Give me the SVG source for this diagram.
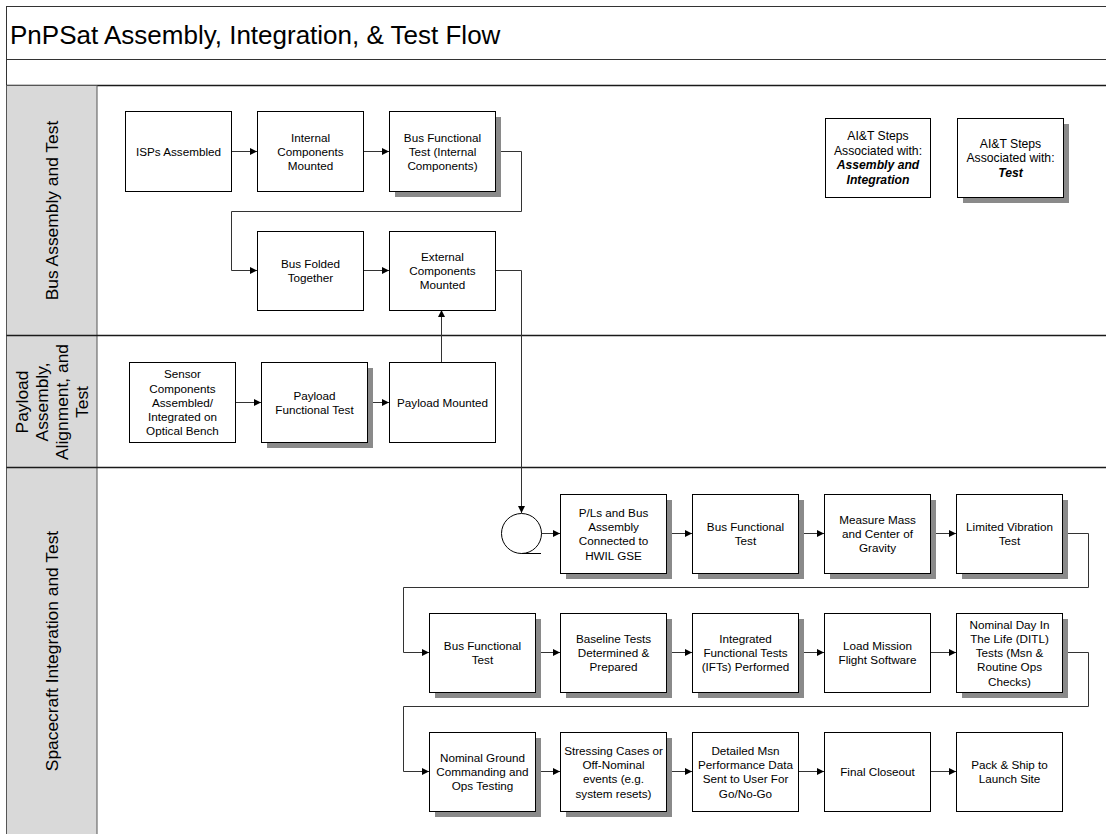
<svg xmlns="http://www.w3.org/2000/svg" width="1106" height="834" viewBox="0 0 1106 834">
<style>
.frame{fill:none;stroke:#333;stroke-width:1}
.div{stroke:#1a1a1a;stroke-width:1.4}
.hdr{fill:#d9d9d9;stroke:#555;stroke-width:1}
.box{fill:#fff;stroke:#000;stroke-width:1}
.sh{fill:#8a8a8a}
.t{font-family:"Liberation Sans",Arial,sans-serif;font-size:11.7px;text-anchor:middle;fill:#000}
.lg{font-family:"Liberation Sans",Arial,sans-serif;font-size:12.2px;text-anchor:middle;fill:#000}
.bi{font-weight:bold;font-style:italic}
.ln{font-family:"Liberation Sans",Arial,sans-serif;font-size:17.4px;text-anchor:middle;fill:#000}
.title{font-family:"Liberation Sans",Arial,sans-serif;font-size:26px;fill:#000}
.c{fill:none;stroke:#333;stroke-width:1}
</style>
<defs>
<marker id="ah" viewBox="0 0 10 10" refX="10" refY="5" markerWidth="8" markerHeight="7" markerUnits="userSpaceOnUse" orient="auto">
<path d="M0,0 L10,5 L0,10 z" fill="#000"/>
</marker>
</defs>
<rect x="0" y="0" width="1106" height="834" fill="#fff"/>
<g id="frame">
<rect class="frame" x="6.5" y="6.5" width="1110" height="840"/>
<line class="frame" x1="6.5" y1="59.5" x2="1106" y2="59.5"/>
<line class="div" x1="6.5" y1="85.5" x2="1106" y2="85.5"/>
<text class="title" x="10" y="44">PnPSat Assembly, Integration, &amp; Test Flow</text>
</g>
<g id="lane-bus">
<rect class="hdr" x="6.5" y="85.5" width="90.5" height="250"/>
<text class="ln" transform="translate(52,210.5) rotate(-90)" x="0" y="6">Bus Assembly and Test</text>
</g>
<g id="lane-payload">
<rect class="hdr" x="6.5" y="335.5" width="90.5" height="132"/>
<text class="ln" transform="translate(52,402) rotate(-90)"><tspan x="0" y="-24">Payload</tspan><tspan x="0" y="-4">Assembly,</tspan><tspan x="0" y="16">Alignment, and</tspan><tspan x="0" y="36">Test</tspan></text>
</g>
<g id="lane-spacecraft">
<rect class="hdr" x="6.5" y="467.5" width="90.5" height="380"/>
<text class="ln" transform="translate(52,651) rotate(-90)" x="0" y="6">Spacecraft Integration and Test</text>
</g>
<g id="dividers">
<line class="div" x1="6.5" y1="335.5" x2="1106" y2="335.5"/>
<line class="div" x1="6.5" y1="467.5" x2="1106" y2="467.5"/>
</g>

<g id="connectors">
<line class="c" x1="231" y1="151.5" x2="257" y2="151.5" marker-end="url(#ah)"/>
<line class="c" x1="363" y1="151.5" x2="389" y2="151.5" marker-end="url(#ah)"/>
<polyline class="c" points="495,151.5 521.5,151.5 521.5,211.5 231.5,211.5 231.5,270.5 257,270.5" marker-end="url(#ah)"/>
<line class="c" x1="363" y1="270.5" x2="389" y2="270.5" marker-end="url(#ah)"/>
<polyline class="c" points="495,270.5 521.5,270.5 521.5,513" marker-end="url(#ah)"/>
<line class="c" x1="441.5" y1="362" x2="441.5" y2="310" marker-end="url(#ah)"/>
<line class="c" x1="235" y1="402.5" x2="261" y2="402.5" marker-end="url(#ah)"/>
<line class="c" x1="367" y1="402.5" x2="389" y2="402.5" marker-end="url(#ah)"/>
<line class="c" x1="541" y1="533.5" x2="560" y2="533.5" marker-end="url(#ah)"/>
<line class="c" x1="666" y1="533.5" x2="692" y2="533.5" marker-end="url(#ah)"/>
<line class="c" x1="798" y1="533.5" x2="824" y2="533.5" marker-end="url(#ah)"/>
<line class="c" x1="930" y1="533.5" x2="956" y2="533.5" marker-end="url(#ah)"/>
<polyline class="c" points="1062,533.5 1088.5,533.5 1088.5,587.5 403.5,587.5 403.5,652.5 429,652.5" marker-end="url(#ah)"/>
<line class="c" x1="535" y1="652.5" x2="560" y2="652.5" marker-end="url(#ah)"/>
<line class="c" x1="666" y1="652.5" x2="692" y2="652.5" marker-end="url(#ah)"/>
<line class="c" x1="798" y1="652.5" x2="824" y2="652.5" marker-end="url(#ah)"/>
<line class="c" x1="930" y1="652.5" x2="956" y2="652.5" marker-end="url(#ah)"/>
<polyline class="c" points="1062,652.5 1088.5,652.5 1088.5,706.5 403.5,706.5 403.5,771.5 429,771.5" marker-end="url(#ah)"/>
<line class="c" x1="535" y1="771.5" x2="560" y2="771.5" marker-end="url(#ah)"/>
<line class="c" x1="666" y1="771.5" x2="692" y2="771.5" marker-end="url(#ah)"/>
<line class="c" x1="798" y1="771.5" x2="824" y2="771.5" marker-end="url(#ah)"/>
<line class="c" x1="930" y1="771.5" x2="956" y2="771.5" marker-end="url(#ah)"/>
</g>

<g id="n-isps"><rect class="box" x="125.5" y="111.5" width="106" height="80"/><text class="t" x="178.5" y="155.7">ISPs Assembled</text></g>
<g id="n-internal"><rect class="box" x="257.5" y="111.5" width="106" height="80"/><text class="t"><tspan x="310.5" y="141.5">Internal</tspan><tspan x="310.5" y="155.7">Components</tspan><tspan x="310.5" y="169.9">Mounted</tspan></text></g>
<g id="n-bft-int"><rect class="sh" x="395" y="117" width="106" height="80"/><rect class="box" x="389.5" y="111.5" width="106" height="80"/><text class="t"><tspan x="442.5" y="141.5">Bus Functional</tspan><tspan x="442.5" y="155.7">Test (Internal</tspan><tspan x="442.5" y="169.9">Components)</tspan></text></g>
<g id="n-folded"><rect class="box" x="257.5" y="231.5" width="106" height="79"/><text class="t"><tspan x="310.5" y="268">Bus Folded</tspan><tspan x="310.5" y="282.2">Together</tspan></text></g>
<g id="n-external"><rect class="box" x="389.5" y="231.5" width="106" height="79"/><text class="t"><tspan x="442.5" y="260.9">External</tspan><tspan x="442.5" y="275.1">Components</tspan><tspan x="442.5" y="289.3">Mounted</tspan></text></g>

<g id="legend-ai"><rect class="box" x="825.5" y="118.5" width="105" height="79"/><text class="lg"><tspan x="878" y="140.1">AI&amp;T Steps</tspan><tspan x="878" y="154.6">Associated with:</tspan><tspan class="bi" x="878" y="169.1">Assembly and</tspan><tspan class="bi" x="878" y="183.6">Integration</tspan></text></g>
<g id="legend-test"><rect class="sh" x="963" y="124" width="106" height="79"/><rect class="box" x="957.5" y="118.5" width="106" height="79"/><text class="lg"><tspan x="1010.5" y="147.6">AI&amp;T Steps</tspan><tspan x="1010.5" y="162.1">Associated with:</tspan><tspan class="bi" x="1010.5" y="176.6">Test</tspan></text></g>

<g id="n-sensor"><rect class="box" x="129.5" y="362.5" width="106" height="80"/><text class="t"><tspan x="182.5" y="378.3">Sensor</tspan><tspan x="182.5" y="392.5">Components</tspan><tspan x="182.5" y="406.7">Assembled/</tspan><tspan x="182.5" y="420.9">Integrated on</tspan><tspan x="182.5" y="435.1">Optical Bench</tspan></text></g>
<g id="n-pft"><rect class="sh" x="267" y="368" width="106" height="80"/><rect class="box" x="261.5" y="362.5" width="106" height="80"/><text class="t"><tspan x="314.5" y="399.6">Payload</tspan><tspan x="314.5" y="413.8">Functional Test</tspan></text></g>
<g id="n-pmounted"><rect class="box" x="389.5" y="362.5" width="106" height="80"/><text class="t" x="442.5" y="406.7">Payload Mounted</text></g>

<g id="n-start"><circle cx="521.5" cy="533.5" r="20" fill="#fff" stroke="#000" stroke-width="1"/><line x1="521.5" y1="553.5" x2="541" y2="553.5" stroke="#000" stroke-width="1"/></g>

<g id="n-pls"><rect class="sh" x="566" y="500" width="106" height="79"/><rect class="box" x="560.5" y="494.5" width="106" height="79"/><text class="t"><tspan x="613.5" y="516.9">P/Ls and Bus</tspan><tspan x="613.5" y="531.1">Assembly</tspan><tspan x="613.5" y="545.3">Connected to</tspan><tspan x="613.5" y="559.5">HWIL GSE</tspan></text></g>
<g id="n-bft1"><rect class="sh" x="698" y="500" width="106" height="79"/><rect class="box" x="692.5" y="494.5" width="106" height="79"/><text class="t"><tspan x="745.5" y="531.1">Bus Functional</tspan><tspan x="745.5" y="545.3">Test</tspan></text></g>
<g id="n-mass"><rect class="sh" x="830" y="500" width="106" height="79"/><rect class="box" x="824.5" y="494.5" width="106" height="79"/><text class="t"><tspan x="877.5" y="524">Measure Mass</tspan><tspan x="877.5" y="538.2">and Center of</tspan><tspan x="877.5" y="552.4">Gravity</tspan></text></g>
<g id="n-vib"><rect class="sh" x="962" y="500" width="106" height="79"/><rect class="box" x="956.5" y="494.5" width="106" height="79"/><text class="t"><tspan x="1009.5" y="531.1">Limited Vibration</tspan><tspan x="1009.5" y="545.3">Test</tspan></text></g>

<g id="n-bft2"><rect class="sh" x="435" y="619" width="106" height="79"/><rect class="box" x="429.5" y="613.5" width="106" height="79"/><text class="t"><tspan x="482.5" y="650.1">Bus Functional</tspan><tspan x="482.5" y="664.3">Test</tspan></text></g>
<g id="n-baseline"><rect class="sh" x="566" y="619" width="106" height="79"/><rect class="box" x="560.5" y="613.5" width="106" height="79"/><text class="t"><tspan x="613.5" y="643">Baseline Tests</tspan><tspan x="613.5" y="657.2">Determined &amp;</tspan><tspan x="613.5" y="671.4">Prepared</tspan></text></g>
<g id="n-ift"><rect class="sh" x="698" y="619" width="106" height="79"/><rect class="box" x="692.5" y="613.5" width="106" height="79"/><text class="t"><tspan x="745.5" y="643">Integrated</tspan><tspan x="745.5" y="657.2">Functional Tests</tspan><tspan x="745.5" y="671.4">(IFTs) Performed</tspan></text></g>
<g id="n-loadsw"><rect class="box" x="824.5" y="613.5" width="106" height="79"/><text class="t"><tspan x="877.5" y="650.1">Load Mission</tspan><tspan x="877.5" y="664.3">Flight Software</tspan></text></g>
<g id="n-ditl"><rect class="sh" x="962" y="619" width="106" height="79"/><rect class="box" x="956.5" y="613.5" width="106" height="79"/><text class="t"><tspan x="1009.5" y="628.8">Nominal Day In</tspan><tspan x="1009.5" y="643">The Life (DITL)</tspan><tspan x="1009.5" y="657.2">Tests (Msn &amp;</tspan><tspan x="1009.5" y="671.4">Routine Ops</tspan><tspan x="1009.5" y="685.6">Checks)</tspan></text></g>

<g id="n-ground"><rect class="sh" x="435" y="738" width="106" height="79"/><rect class="box" x="429.5" y="732.5" width="106" height="79"/><text class="t"><tspan x="482.5" y="762">Nominal Ground</tspan><tspan x="482.5" y="776.2">Commanding and</tspan><tspan x="482.5" y="790.4">Ops Testing</tspan></text></g>
<g id="n-stress"><rect class="sh" x="566" y="738" width="106" height="79"/><rect class="box" x="560.5" y="732.5" width="106" height="79"/><text class="t"><tspan x="613.5" y="754.9">Stressing Cases or</tspan><tspan x="613.5" y="769.1">Off-Nominal</tspan><tspan x="613.5" y="783.3">events (e.g.</tspan><tspan x="613.5" y="797.5">system resets)</tspan></text></g>
<g id="n-detailed"><rect class="box" x="692.5" y="732.5" width="106" height="79"/><text class="t"><tspan x="745.5" y="754.9">Detailed Msn</tspan><tspan x="745.5" y="769.1">Performance Data</tspan><tspan x="745.5" y="783.3">Sent to User For</tspan><tspan x="745.5" y="797.5">Go/No-Go</tspan></text></g>
<g id="n-closeout"><rect class="box" x="824.5" y="732.5" width="106" height="79"/><text class="t" x="877.5" y="776.2">Final Closeout</text></g>
<g id="n-ship"><rect class="box" x="956.5" y="732.5" width="106" height="79"/><text class="t"><tspan x="1009.5" y="769.1">Pack &amp; Ship to</tspan><tspan x="1009.5" y="783.3">Launch Site</tspan></text></g>
</svg>
